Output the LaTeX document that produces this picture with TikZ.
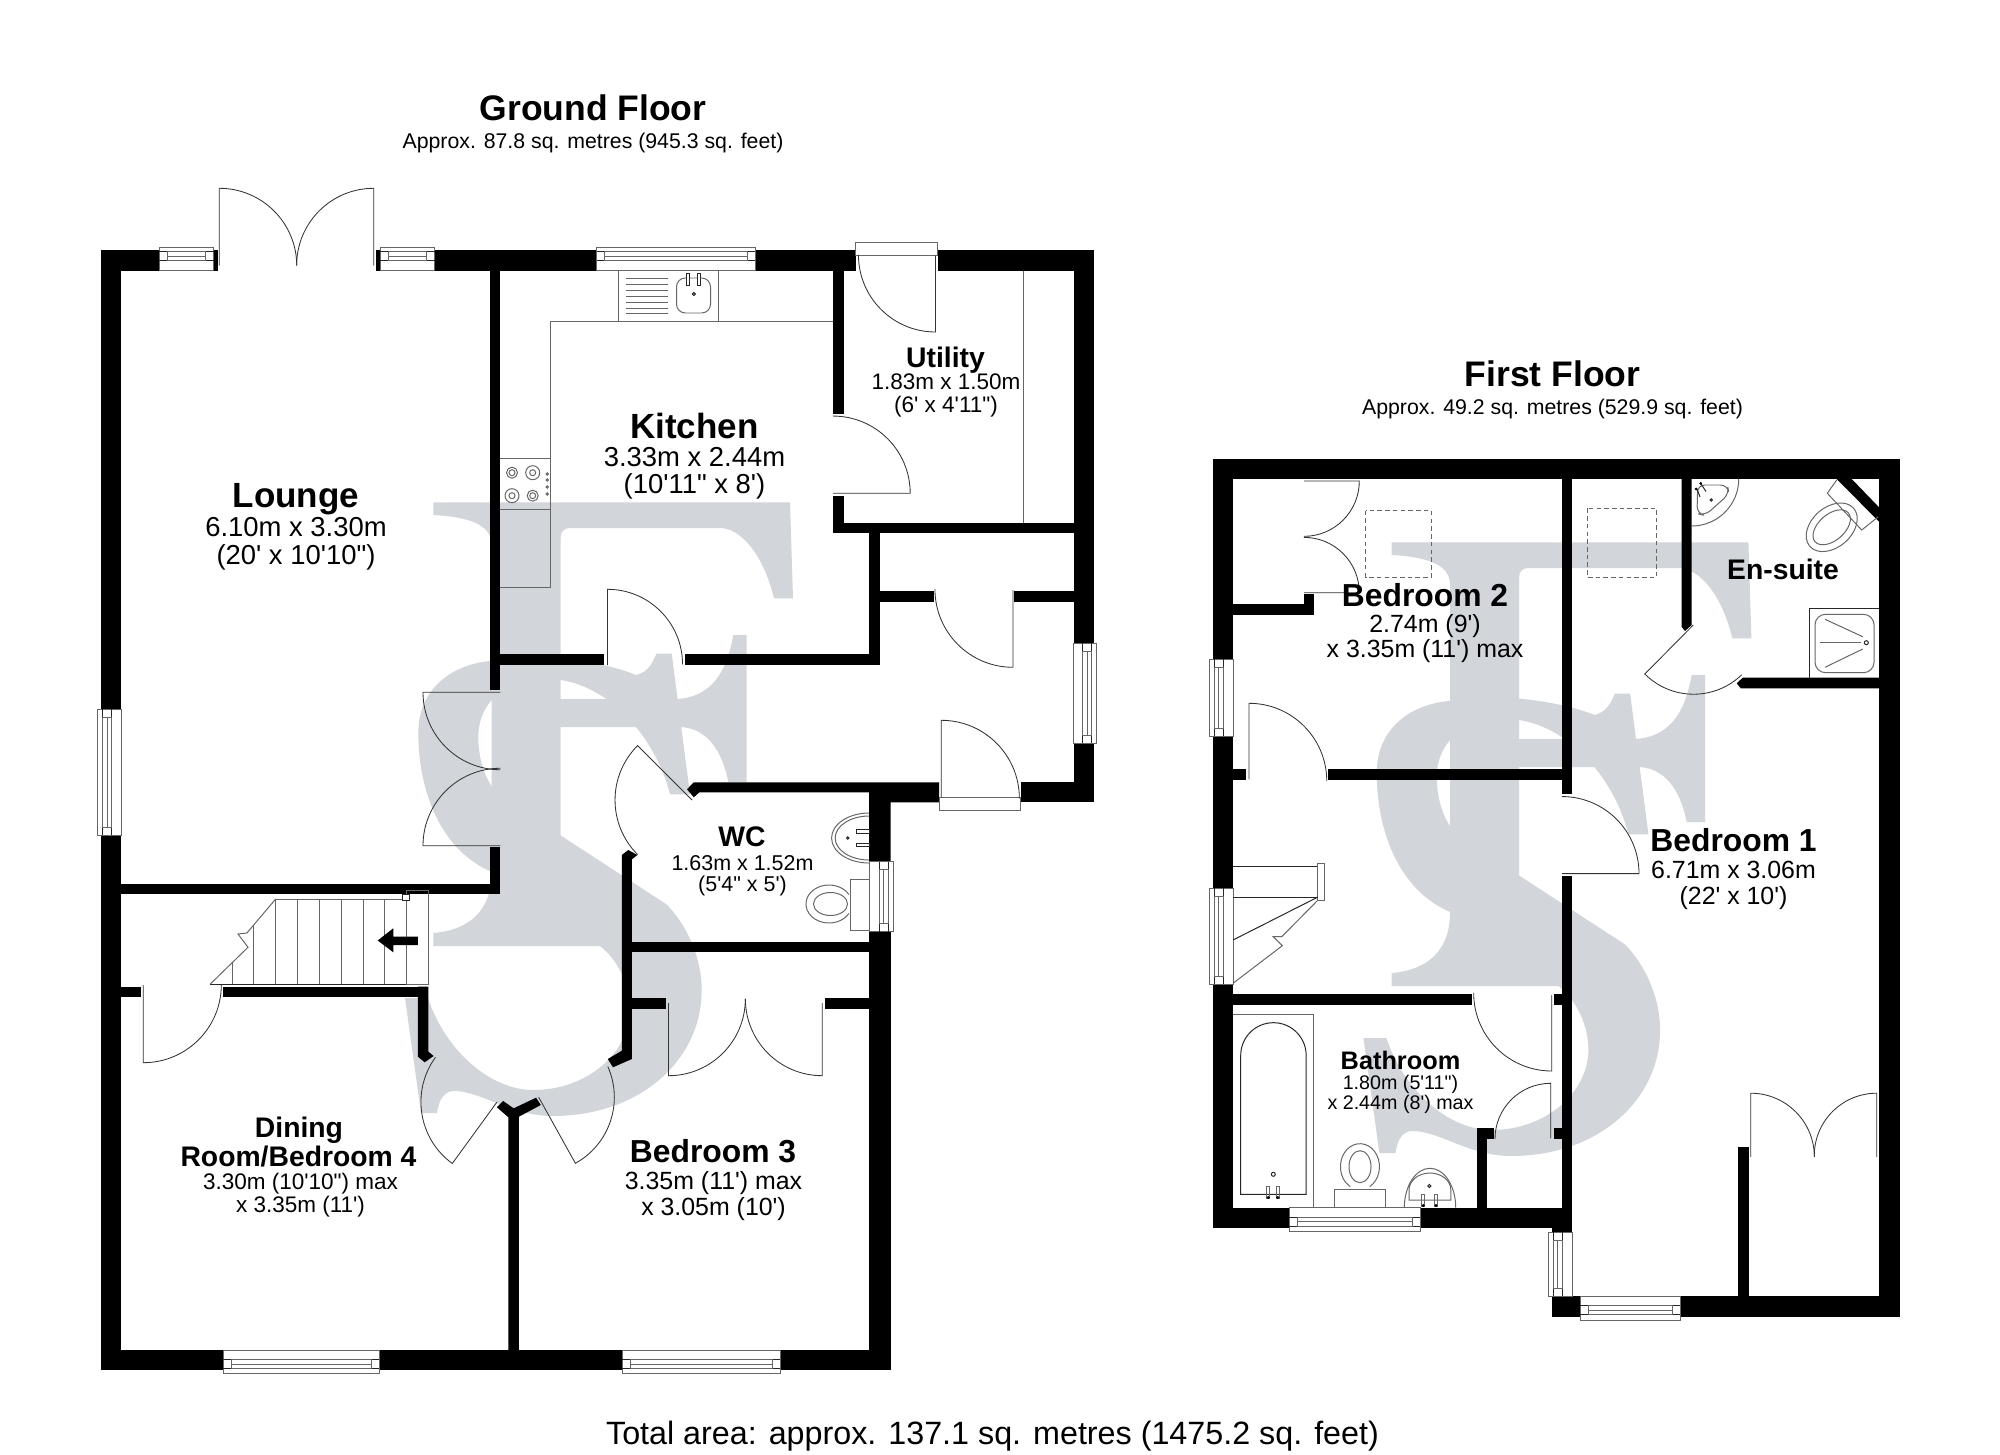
\documentclass[tikz,border=0pt]{standalone}
\usepackage{fontspec}
\newfontfamily\plansf{Liberation Sans}
\definecolor{logogray}{HTML}{D2D5DA}
\tikzset{
  wall/.style={fill=black},
  doorline/.style={draw=black!80,line width=0.24pt},
  unitline/.style={draw=black!60,line width=0.28pt},
  darkline/.style={draw=black!85,line width=0.28pt},
  dashbox/.style={draw=black!60,line width=0.28pt,dash pattern=on 1.3pt off 0.9pt},
  plantext/.style={anchor=base,inner sep=0pt,text=black},
  floortitle/.style={plantext,font=\plansf\bfseries\fontsize{10.1}{12}\selectfont},
  bigname/.style={plantext,font=\plansf\bfseries\fontsize{9.95}{12}\selectfont},
  roomname/.style={plantext,font=\plansf\bfseries\fontsize{9.05}{11}\selectfont},
  smallname/.style={plantext,font=\plansf\bfseries\fontsize{8.05}{10}\selectfont},
  tinyname/.style={plantext,font=\plansf\bfseries\fontsize{7.2}{9}\selectfont},
  bigdim/.style={plantext,font=\plansf\fontsize{7.8}{9}\selectfont},
  roomdim/.style={plantext,font=\plansf\fontsize{7.08}{9}\selectfont},
  smalldim/.style={plantext,font=\plansf\fontsize{6.4}{8}\selectfont},
  wcdim/.style={plantext,font=\plansf\fontsize{6.1}{8}\selectfont},
  tinydim/.style={plantext,font=\plansf\fontsize{5.6}{7}\selectfont},
  floorarea/.style={plantext,font=\plansf\fontsize{6.05}{8}\selectfont},
  totalarea/.style={plantext,font=\plansf\fontsize{9.18}{11}\selectfont},
}
% x1 x2 outer-y inner-y
\newcommand{\windowh}[4]{
  \fill[white] (#1,#3) rectangle (#2,#4);
  \draw[unitline] (#1,#3) rectangle (#2,#4);
  \draw[darkline] (#1,{#3+0.21*(#4-#3)}) -- (#2,{#3+0.21*(#4-#3)});
  \draw[darkline] (#1,{#3+0.59*(#4-#3)}) -- (#2,{#3+0.59*(#4-#3)});
  \draw[unitline] ({#1+8},{#3+0.21*(#4-#3)}) rectangle ({#2-8},{#3+0.59*(#4-#3)});
  \draw[unitline] ({#1+8},{#3+0.40*(#4-#3)}) -- ({#2-8},{#3+0.40*(#4-#3)});
}
% y1 y2 outer-x inner-x
\newcommand{\windowv}[4]{
  \fill[white] (#3,#1) rectangle (#4,#2);
  \draw[unitline] (#3,#1) rectangle (#4,#2);
  \draw[darkline] ({#3+0.21*(#4-#3)},#1) -- ({#3+0.21*(#4-#3)},#2);
  \draw[darkline] ({#3+0.59*(#4-#3)},#1) -- ({#3+0.59*(#4-#3)},#2);
  \draw[unitline] ({#3+0.21*(#4-#3)},{#1+8}) rectangle ({#3+0.59*(#4-#3)},{#2-8});
  \draw[unitline] ({#3+0.40*(#4-#3)},{#1+8}) -- ({#3+0.40*(#4-#3)},{#2-8});
}
\newcommand{\logomark}{
  \fill[logogray] (656.7,653.5) -- (671.7,653.5) -- (690,794.3) -- (670,794.3)
    .. controls (656.7,741) and (613.3,688) .. (560.7,680)
    .. controls (516.7,672) and (478.3,696) .. (478.3,737)
    .. controls (478.3,761.6) and (486.7,784) .. (500,796)
    -- (666.7,904.5)
    .. controls (686.7,925) and (701.7,957.6) .. (701.7,990)
    .. controls (701.7,1060) and (640,1116) .. (552.7,1116)
    .. controls (510,1116) and (480,1090) .. (452,1091)
    .. controls (443,1093) and (439,1100) .. (437,1113)
    -- (421,1113) -- (405,998) -- (428,998)
    .. controls (445,1050) and (490,1090) .. (533,1090)
    .. controls (590,1090) and (630,1050) .. (630,1010)
    .. controls (630,985) and (618,960) .. (600,946)
    -- (491.7,872)
    .. controls (440,850) and (418.3,790) .. (418.3,733)
    .. controls (418.3,690) and (450,665) .. (490,661)
    .. controls (530,652) and (600,660) .. (636,675)
    .. controls (650,672) and (653,660) .. (656.7,653.5) -- cycle;
  \fill[logogray] (433.3,502.4) -- (790,502.4) -- (793,598.4) -- (774,598.4)
    .. controls (763,553) and (740,528) .. (720,528)
    -- (570,528) .. controls (564,528) and (560.7,532) .. (560.7,537)
    -- (560.7,699) -- (678,699)
    .. controls (716.7,696) and (728,664) .. (733.3,635)
    -- (746.7,635) -- (746.7,782) -- (728.3,782)
    .. controls (720,741) and (700,727) .. (678.3,727)
    -- (560.7,727) -- (560.7,835) -- (600,946) -- (433.3,946) -- (433.3,933)
    .. controls (470,930) and (491.7,910) .. (491.7,872)
    -- (491.7,545) .. controls (491.7,525) and (470,517) .. (433.3,515) -- cycle;
}
\begin{document}
\begin{tikzpicture}[x=0.01cm,y=-0.01cm]
\useasboundingbox (0,0) rectangle (2000,1455);
\fill[white] (0,0) rectangle (2000,1455);

\logomark
\begin{scope}[shift={(958.4,40)}]
\logomark
\end{scope}

% ground floor walls
\fill[wall] (100.7,250) rectangle (159,270.7);
\fill[wall] (213.5,250) rectangle (218,270.7);
\fill[wall] (376,250) rectangle (380,270.7);
\fill[wall] (434.7,250) rectangle (596.6,270.7);
\fill[wall] (755.2,250) rectangle (855.6,270.7);
\fill[wall] (937.5,250) rectangle (1094,270.7);
\fill[wall] (100.7,250) rectangle (121,709);
\fill[wall] (100.7,835) rectangle (121,1370);
\fill[wall] (490,270) rectangle (500.4,690);
\fill[wall] (490,847.3) rectangle (500.4,894.3);
\fill[wall] (121,884.3) rectangle (500.4,894.3);
\fill[wall] (1073.5,250) rectangle (1094,643.3);
\fill[wall] (1073.5,743.3) rectangle (1094,802.3);
\fill[wall] (833.1,270.7) rectangle (843.8,414.3);
\fill[wall] (833.1,496) rectangle (843.8,533.3);
\fill[wall] (833.1,523.3) rectangle (1073.5,533.3);
\fill[wall] (869.4,533) rectangle (879.8,665);
\fill[wall] (500.4,654.3) rectangle (604.3,665);
\fill[wall] (685.1,654.3) rectangle (879.8,665);
\fill[wall] (879.8,590.7) rectangle (934,601.7);
\fill[wall] (1014.3,590.7) rectangle (1073.5,601.7);
\fill[wall] (693.8,782.3) -- (939,782.3) -- (939,802.3) -- (890.5,802.3) -- (890.5,861.7)
  -- (869.2,861.7) -- (869.2,792.3) -- (699.4,792.3) -- (693.8,797.3) -- (687,789.3) -- cycle;
\fill[wall] (1020.7,782.3) rectangle (1094,802.3);
\fill[wall] (869.2,931.7) rectangle (890.5,1370);
\fill[wall] (621.8,941.7) rectangle (869.2,952.3);
\fill[wall] (621.8,855) -- (628.2,850) -- (637.4,855) -- (631.9,859.3) -- (631.9,1059)
  -- (613,1067.3) -- (607.8,1059) -- (621.8,1050.7) -- cycle;
\fill[wall] (631.9,998.4) rectangle (666.4,1009.2);
\fill[wall] (824.8,998.4) rectangle (869.2,1009.2);
\fill[wall] (121,986.7) rectangle (141.3,996.7);
\fill[wall] (223.4,986.7) rectangle (428.4,996.7);
\fill[wall] (417.9,986.7) -- (428.4,986.7) -- (428.4,1051.7) -- (433.6,1056) -- (424.7,1062.3)
  -- (417.9,1056.7) -- cycle;
\fill[wall] (496.9,1107.3) -- (503.2,1101) -- (513.6,1108.3) -- (536.1,1097.7) -- (540.8,1105)
  -- (518.9,1116.7) -- (518.9,1350) -- (508.4,1350) -- (508.4,1117.3) -- cycle;
\fill[wall] (100.7,1350) rectangle (223.4,1370);
\fill[wall] (379.2,1350) rectangle (622.4,1370);
\fill[wall] (780.4,1350) rectangle (890.5,1370);

% ground floor windows
\windowh{159}{213.5}{247}{270.7}
\windowh{380}{434.7}{247}{270.7}
\windowh{596.6}{755.2}{247}{270.7}
\windowh{223.4}{379.2}{1373.3}{1350}
\windowh{622.4}{780.4}{1373.3}{1350}
\windowv{709}{835}{97.7}{121}
\windowv{643.3}{743.3}{1096.5}{1073.5}
\windowv{861.7}{931.7}{893.6}{869.2}

% ground floor doors
\draw[doorline] (219.3,265.7) -- (219.3,188.3) arc (90:0:0.774cm);
\draw[doorline] (373.7,265.7) -- (373.7,188.3) arc (90:180:0.77cm);
\fill[white] (855.6,242) rectangle (937.5,255.7);
\draw[unitline] (855.6,242) rectangle (937.5,255.7);
\draw[doorline] (935.5,255.7) -- (935.5,332) arc (-90:-180:0.77cm);
\draw[doorline] (833,493.3) -- (910.2,493.3) arc (0:90:0.772cm);
\draw[doorline] (607.5,665) -- (607.5,589.3) arc (90:0:0.75cm);
\draw[doorline] (1013,590) -- (1013,667.3) arc (-90:-180:0.78cm);
\fill[white] (939,797.3) rectangle (1020.7,810);
\draw[unitline] (939,797.3) rectangle (1020.7,810);
\draw[doorline] (941.3,797.3) -- (941.3,720.3) arc (90:0:0.78cm);
\draw[doorline] (500.4,692.3) -- (423,692.3) arc (180:270:0.774cm);
\draw[doorline] (500.4,845.7) -- (423,845.7) arc (180:90:0.774cm);
\draw[doorline] (692,800) -- (637.6,745.6) arc (135:225:0.77cm);
\draw[doorline] (143.3,985) -- (143.3,1062.7) arc (-90:0:0.78cm);
\draw[doorline] (497,1102) -- (452.3,1163.5) arc (234:144:0.76cm);
\draw[doorline] (538.7,1097.3) -- (575.4,1163.3) arc (-61:24:0.755cm);
\draw[doorline] (668.5,1003) -- (668.5,1075.7) arc (-90:0:0.768cm);
\draw[doorline] (822.2,1003) -- (822.2,1075.7) arc (-90:-180:0.768cm);

% kitchen units
\draw[unitline] (550.3,321.3) -- (833.1,321.3);
\draw[unitline] (550.3,321.3) -- (550.3,587.3) -- (500.4,587.3);
\draw[unitline] (500.4,458.3) -- (550.3,458.3);
\draw[unitline] (500.4,509.3) -- (550.3,509.3);
\draw[unitline] (618.4,270.7) -- (618.4,321.3);
\draw[unitline] (718.4,270.7) -- (718.4,321.3);
\draw[unitline,rounded corners=2.5pt] (676.5,278) rectangle (710.5,313);
\foreach \y in {278.3,284,290,296,302,308,313}
  \draw[unitline] (625.5,\y) -- (668.2,\y);
\fill[white] (686.3,273) rectangle (689,285.7);
\draw[darkline] (686.3,273) rectangle (689,285.7);
\fill[white] (697.4,273) rectangle (700.1,285.7);
\draw[darkline] (697.4,273) rectangle (700.1,285.7);
\draw[darkline] (693.9,294) circle (0.015cm);
\draw[unitline] (512,472.7) circle (0.055cm);
\draw[unitline] (512,472.7) circle (0.03cm);
\draw[unitline] (532.7,472.7) circle (0.07cm);
\draw[unitline] (532.7,472.7) circle (0.03cm);
\draw[unitline] (512,495.7) circle (0.07cm);
\draw[unitline] (512,495.7) circle (0.03cm);
\draw[unitline] (532.7,495.7) circle (0.055cm);
\draw[unitline] (532.7,495.7) circle (0.03cm);
\foreach \y in {474,480,487,494}
  \draw[unitline] (547.3,\y) circle (0.012cm);
\draw[unitline] (1023.3,270.7) -- (1023.3,523.3);

% wc fittings
\draw[unitline] (869.2,813) arc (90:270:0.376cm and 0.25cm);
\draw[unitline] (869.2,816) arc (90:270:0.34cm and 0.22cm);
\draw[darkline] (847.7,838) circle (0.012cm);
\draw[darkline] (856.8,829.7) rectangle (869.2,833);
\draw[darkline] (856.8,843.5) rectangle (869.2,846.8);
\draw[unitline] (850.9,879.3) rectangle (869.2,930);
\draw[unitline] (848.9,894.5) arc (30:330:0.23cm and 0.19cm);
\draw[unitline] (830.5,904) ellipse (0.17cm and 0.115cm);

% stairs going down
\draw[unitline] (275.7,899) -- (406.4,899);
\draw[darkline] (210.3,984) -- (428.4,984);
\foreach \x/\t in {232.3/963,253.7/925,275.7/899,297.6/899,319/899,341/899,363/899,384.5/899,406.4/897}
  \draw[unitline] (\x,\t) -- (\x,984);
\draw[unitline] (275.7,899) -- (246.9,933) -- (238,934) -- (248,947.3) -- (210.3,984);
\draw[unitline] (406.4,890.7) rectangle (428.4,984);
\fill[white] (402.8,894) rectangle (409,900.7);
\draw[darkline] (402.8,894) rectangle (409,900.7);
\fill (417.9,936.7) -- (393.3,936.7) -- (393.3,928.3) -- (377.7,940.5) -- (393.3,952.3)
  -- (393.3,945) -- (417.9,945) -- cycle;

% first floor walls
\fill[wall] (1212.7,459) rectangle (1900,479.3);
\fill[wall] (1212.7,459) rectangle (1233,659);
\fill[wall] (1212.7,736) rectangle (1233,888.3);
\fill[wall] (1212.7,984.3) rectangle (1233,1227.7);
\fill[wall] (1879,459) rectangle (1900,1316.8);
\fill[wall] (1212.7,1207.7) rectangle (1289,1227.7);
\fill[wall] (1420,1207.7) rectangle (1572,1227.7);
\fill[wall] (1562,479) rectangle (1572,794.3);
\fill[wall] (1562,875.7) rectangle (1572,1232);
\fill[wall] (1233,604) rectangle (1314.3,615);
\fill[wall] (1304,594.3) rectangle (1314.3,615);
\fill[wall] (1233,769.3) rectangle (1246,780);
\fill[wall] (1327.7,769.3) rectangle (1562,780);
\fill[wall] (1233,994) rectangle (1472.3,1004.7);
\fill[wall] (1554,994.3) rectangle (1562,1005);
\fill[wall] (1554,1128.3) rectangle (1562,1139);
\fill[wall] (1477.3,1128.3) rectangle (1487.3,1208);
\fill[wall] (1477.3,1128.3) rectangle (1494,1139);
\fill[wall] (1551.7,1227.7) rectangle (1572,1232);
\fill[wall] (1551.7,1296) rectangle (1580,1316.8);
\fill[wall] (1680.3,1296) rectangle (1900,1316.8);
\fill[wall] (1738,1146.8) rectangle (1748.7,1296);
\fill[wall] (1681.7,479) -- (1691.7,479) -- (1691.7,625) -- (1685,631) -- (1681.7,627) -- cycle;
\fill[wall] (1742.7,677.7) -- (1736.7,683.3) -- (1740.7,688.3) -- (1879,688.3) -- (1879,677.7) -- cycle;
\fill[wall] (1836.7,479) -- (1851.7,479) -- (1879,507.3) -- (1879,521.7) -- cycle;

% first floor windows
\windowv{659}{736}{1209.3}{1233}
\windowv{888.3}{984.3}{1209.3}{1233}
\windowh{1289}{1420}{1231}{1207.7}
\windowv{1232}{1296}{1548.3}{1572}
\windowh{1580}{1680.3}{1320}{1296}

% first floor doors
\draw[doorline] (1304,481) -- (1359.3,481) arc (0:-90:0.553cm);
\draw[doorline] (1304,592.7) -- (1359.3,592.7) arc (0:90:0.553cm);
\draw[doorline] (1249,779.3) -- (1249,703.3) arc (90:0:0.777cm);
\draw[doorline] (1562,873.6) -- (1639,873.6) arc (0:90:0.77cm);
\draw[doorline] (1551.7,995) -- (1551.7,1071) arc (-90:-180:0.78cm);
\draw[doorline] (1550.7,1138.3) -- (1550.7,1083.3) arc (90:180:0.557cm);
\draw[doorline] (1693.3,625) -- (1644.8,674) arc (225:314:0.69cm);
\draw[doorline] (1750.7,1156.8) -- (1750.7,1093.2) arc (90:0:0.636cm);
\draw[doorline] (1876.7,1156.8) -- (1876.7,1093.2) arc (90:180:0.624cm);

\draw[dashbox] (1365.7,510.7) rectangle (1431.3,577);
\draw[dashbox] (1587.3,508.3) rectangle (1656.7,577.3);

% en-suite fittings
\draw[unitline] (1691.7,526) arc (-90:0:0.47cm);
\draw[unitline,rounded corners=2pt] (1697.7,485) -- (1727.5,485) -- (1729,494) -- (1705,515.5) -- (1697,513.5) -- cycle;
\draw[darkline] (1711.3,500) circle (0.012cm);
\draw[darkline] (1697,489) -- (1700,497);
\draw[darkline] (1700.7,483.5) -- (1706,491.5);
\fill (1696,489) circle (0.015cm);
\fill (1700.7,483.3) circle (0.015cm);
\draw[unitline] (1836.7,480) -- (1827.3,493.3) -- (1861.7,530) -- (1878.3,516.7);
\draw[unitline,rotate around={41:(1831.7,527.3)}] (1831.7,527.3) ellipse (0.29cm and 0.20cm);
\draw[unitline,rotate around={41:(1831.7,527.3)}] (1831.7,527.3) ellipse (0.22cm and 0.13cm);
\draw[darkline] (1809.3,677.7) -- (1809.3,608.3) -- (1879,608.3);
\draw[unitline,rounded corners=3pt] (1815,614.3) rectangle (1874,672.7);
\draw[unitline] (1825,619.3) -- (1862.7,636.7);
\draw[unitline] (1820,642.7) -- (1860.7,642.7);
\draw[unitline] (1825,667.3) -- (1862.7,649);
\draw[darkline] (1866.3,642.7) circle (0.02cm);

% stairs on first floor
\draw[darkline] (1233,866) -- (1318,866);
\draw[darkline] (1233,897) -- (1318,897);
\fill[white] (1317.7,863.3) rectangle (1324,900.3);
\draw[unitline] (1317.7,863.3) rectangle (1324,900.3);
\draw[darkline] (1318,897) -- (1233,940);
\draw[unitline] (1318,900) -- (1281.7,936.7) -- (1273.3,936.7) -- (1282.3,945.7) -- (1233,983.3);

% bathroom fittings
\draw[unitline] (1233,1014) -- (1313.7,1014) -- (1313.7,1207.7);
\draw[darkline] (1240.7,1194.3) -- (1240.7,1055.4) arc (180:0:0.327cm) -- (1306,1194.3) -- cycle;
\draw[darkline] (1273.3,1174.3) circle (0.02cm);
\draw[unitline] (1266.8,1186) rectangle (1269.8,1198);
\draw[unitline] (1276.2,1186) rectangle (1279.2,1198);
\fill (1268.3,1197.5) circle (0.016cm);
\fill (1277.7,1197.5) circle (0.016cm);
\draw[unitline] (1334.7,1207.7) -- (1334.7,1189.3) -- (1385.7,1189.3) -- (1385.7,1207.7);
\draw[unitline] (1369.7,1186.6) arc (-60:240:0.195cm and 0.23cm);
\draw[unitline] (1360,1166.7) ellipse (0.11cm and 0.16cm);
\draw[unitline] (1404.3,1207.7) arc (180:0:0.257cm and 0.394cm);
\draw[unitline] (1409,1200) -- (1409,1190) arc (180:0:0.209cm and 0.17cm) -- (1450.8,1200) -- cycle;
\draw[darkline] (1429.3,1186) circle (0.016cm);
\draw[unitline] (1421.8,1194) rectangle (1424.8,1206);
\draw[unitline] (1434.5,1194) rectangle (1437.5,1206);
\fill (1423.3,1205.5) circle (0.016cm);
\fill (1436,1205.5) circle (0.016cm);

% titles
\node[floortitle] (groundtitle) at (593,120.5) {Ground Floor};
\node[floorarea] (groundarea) at (593,148.5) {Approx. 87.8 sq. metres (945.3 sq. feet)};
\node[floortitle] (firsttitle) at (1552.5,387) {First Floor};
\node[floorarea] (firstarea) at (1552.5,414.5) {Approx. 49.2 sq. metres (529.9 sq. feet)};
\node[totalarea] (total) at (992.5,1444) {Total area: approx. 137.1 sq. metres (1475.2 sq. feet)};

\node[bigname] (lounge) at (296,507.7) {Lounge};
\node[bigdim] (loungea) at (296,536.7) {6.10m x 3.30m};
\node[bigdim] (loungeb) at (296,564) {(20' x 10'10")};
\node[bigname] (kitchen) at (694.5,438.3) {Kitchen};
\node[bigdim] (kitchena) at (694.5,466) {3.33m x 2.44m};
\node[bigdim] (kitchenb) at (694.5,494) {(10'11" x 8')};
\node[smallname] (utility) at (945.5,367.3) {Utility};
\node[smalldim] (utilitya) at (946,390) {1.83m x 1.50m};
\node[smalldim] (utilityb) at (946,412.7) {(6' x 4'11")};
\node[smallname] (wc) at (742,846.7) {WC};
\node[wcdim] (wca) at (742.5,870) {1.63m x 1.52m};
\node[wcdim] (wcb) at (742.5,891.7) {(5'4" x 5')};
\node[smallname] (dining) at (299,1137.3) {Dining};
\node[smallname] (diningb) at (298.5,1166.7) {Room/Bedroom 4};
\node[smalldim] (diningc) at (300.5,1189.3) {3.30m (10'10") max};
\node[smalldim] (diningd) at (300.5,1212) {x 3.35m (11')};
\node[roomname] (bedthree) at (713,1162.7) {Bedroom 3};
\node[roomdim] (bedthreea) at (713.5,1189.3) {3.35m (11') max};
\node[roomdim] (bedthreeb) at (713.5,1215) {x 3.05m (10')};

\node[roomname] (bedtwo) at (1425,606) {Bedroom 2};
\node[roomdim] (bedtwoa) at (1425,632.3) {2.74m (9')};
\node[roomdim] (bedtwob) at (1425,657.3) {x 3.35m (11') max};
\node[smallname] (ensuite) at (1783,579) {En-suite};
\node[roomname] (bedone) at (1733.5,851.4) {Bedroom 1};
\node[roomdim] (bedonea) at (1733.5,878) {6.71m x 3.06m};
\node[roomdim] (bedoneb) at (1733.5,904) {(22' x 10')};
\node[tinyname] (bathroom) at (1400.5,1069) {Bathroom};
\node[tinydim] (bathrooma) at (1400.5,1089.3) {1.80m (5'11")};
\node[tinydim] (bathroomb) at (1400.5,1109.3) {x 2.44m (8') max};
\end{tikzpicture}
\end{document}
